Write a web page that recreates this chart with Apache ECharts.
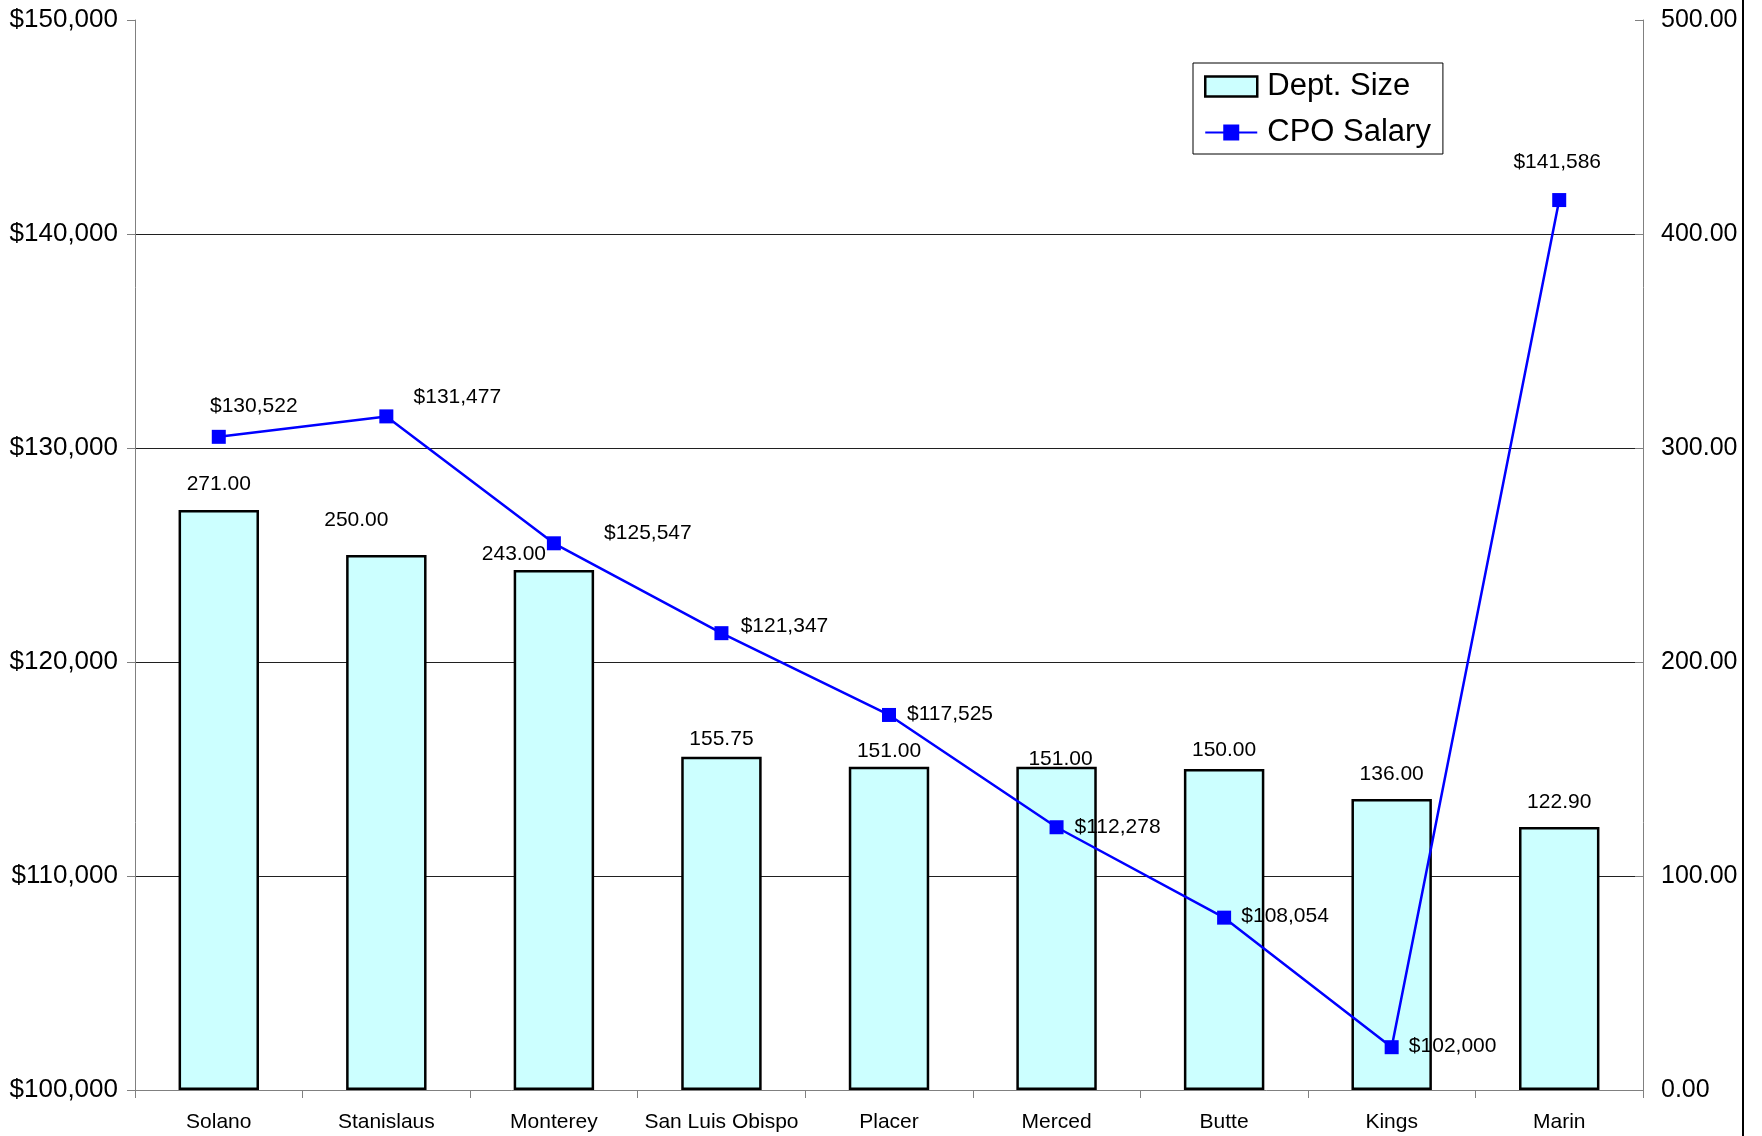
<!DOCTYPE html>
<html>
<head>
<meta charset="utf-8">
<script src="https://cdn.jsdelivr.net/npm/echarts@6/dist/echarts.min.js"></script>
<style>
html,body{margin:0;padding:0;background:#fff;}
#chart{width:1762px;height:1136px;}
</style>
</head>
<body>
<div id="chart"></div>
<script>
// ---- data ----
const categories = ['Solano','Stanislaus','Monterey','San Luis Obispo','Placer','Merced','Butte','Kings','Marin'];
const deptSize = [271.00, 250.00, 243.00, 155.75, 151.00, 151.00, 150.00, 136.00, 122.90];
const cpoSalary = [130522, 131477, 125547, 121347, 117525, 112278, 108054, 102000, 141586];
const salaryTicks = [100000, 110000, 120000, 130000, 140000, 150000];
const sizeTicks = [0, 100, 200, 300, 400, 500];

// ---- label placement (layout only) ----
const barLabelOffsets = [[0,-10],[-30,-19],[-40,0],[0,-2],[0,0],[4,8],[0,-3],[0,-9],[0,-9]];
const lineLabelOffsets = [[35,-31],[71,-19],[94,-10],[63,-7],[61,-1],[61,0],[61,-1],[61,-1],[-2,-38]];

const FONT = "'Liberation Sans', Arial, sans-serif";
const money = v => '$' + Math.round(v).toString().replace(/\B(?=(\d{3})+(?!\d))/g, ',');

const chart = echarts.init(document.getElementById('chart'));
chart.setOption({
  animation: false,
  backgroundColor: '#ffffff',
  textStyle: { fontFamily: FONT },
  grid: { left: 135, right: 119, top: 20, bottom: 46, containLabel: false },
  legend: {
    left: 1193, top: 63, orient: 'vertical',
    padding: [8, 12, 6, 11],
    itemWidth: 52, itemHeight: 20, itemGap: 15,
    borderColor: '#000', borderWidth: 1,
    backgroundColor: '#fff',
    textStyle: { fontFamily: FONT, fontSize: 31, color: '#000', lineHeight: 31, padding: [0,0,0,5] },
    data: [
      { name: 'Dept. Size', icon: 'rect', itemStyle: { borderWidth: 2.5, borderColor: '#000' } },
      { name: 'CPO Salary' }
    ]
  },
  xAxis: {
    type: 'category',
    data: categories,
    boundaryGap: true,
    axisLine: { lineStyle: { color: '#808080', width: 1 } },
    axisTick: { show: true, alignWithLabel: false, interval: 0, length: 8, lineStyle: { color: '#808080' } },
    axisLabel: { interval: 0, margin: 22, fontSize: 21, color: '#000', fontFamily: FONT },
    splitLine: { show: false }
  },
  yAxis: [
    {
      type: 'value', position: 'left',
      min: salaryTicks[0], max: salaryTicks[salaryTicks.length - 1], interval: 10000,
      axisLine: { show: true, lineStyle: { color: '#808080', width: 1 } },
      axisTick: { show: true, length: 8, lineStyle: { color: '#808080' } },
      axisLabel: { margin: 17, fontSize: 26, color: '#000', fontFamily: FONT, formatter: v => money(v) },
      splitLine: { show: true, showMinLine: false, showMaxLine: false, lineStyle: { color: '#202020', width: 1 } }
    },
    {
      type: 'value', position: 'right',
      min: sizeTicks[0], max: sizeTicks[sizeTicks.length - 1], interval: 100,
      axisLine: { show: true, lineStyle: { color: '#808080', width: 1 } },
      axisTick: { show: true, inside: true, length: 8, lineStyle: { color: '#808080' } },
      axisLabel: { margin: 18, fontSize: 25, color: '#000', fontFamily: FONT, formatter: v => v.toFixed(2) },
      splitLine: { show: false }
    }
  ],
  series: [
    {
      name: 'Dept. Size',
      type: 'bar',
      yAxisIndex: 1,
      barWidth: '48%',
      z: 2,
      itemStyle: { color: '#CCFFFF', borderColor: '#000', borderWidth: 2.5 },
      label: {
        show: true, position: 'top', distance: 5,
        fontSize: 21, color: '#000', fontFamily: FONT,
        formatter: p => Number(p.value).toFixed(2)
      },
      data: deptSize.map((v, i) => ({ value: v, label: { offset: barLabelOffsets[i] } }))
    },
    {
      name: 'CPO Salary',
      type: 'line',
      yAxisIndex: 0,
      z: 5,
      symbol: 'rect',
      symbolSize: 14,
      lineStyle: { color: '#0000FF', width: 2.5 },
      itemStyle: { color: '#0000FF' },
      label: {
        show: true, position: 'inside',
        fontSize: 21, color: '#000', fontFamily: FONT,
        formatter: p => money(p.value)
      },
      data: cpoSalary.map((v, i) => ({ value: v, label: { offset: lineLabelOffsets[i] } }))
    }
  ],
  graphic: [
    { type: 'line', shape: { x1: 1743, y1: 0, x2: 1743, y2: 1136 }, style: { stroke: '#000', lineWidth: 2 } }
  ]
});
</script>
</body>
</html>
